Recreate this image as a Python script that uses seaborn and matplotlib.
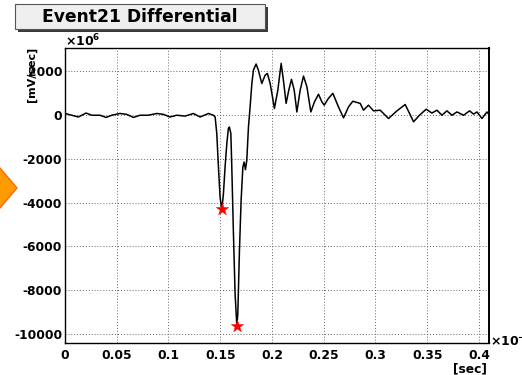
import numpy as np
import pandas as pd
import seaborn as sns
import matplotlib
matplotlib.use("Agg")
import matplotlib.pyplot as plt
from matplotlib.patches import Polygon, Rectangle
from matplotlib.ticker import MultipleLocator

# Differential waveform: time in units of 1e-6 s, value in units of 1e6 mV/s
time_us = [0.0000, 0.0065, 0.0129, 0.0203, 0.0258, 0.0338, 0.0397, 0.0452,
           0.0532, 0.0597, 0.0661, 0.0725, 0.0803, 0.0887, 0.0951, 0.1015,
           0.1080, 0.1161, 0.1241, 0.1306, 0.1386, 0.1434, 0.1451, 0.1467,
           0.1483, 0.1499, 0.1515, 0.1531, 0.1547, 0.1564, 0.1579, 0.1589,
           0.1603, 0.1612, 0.1628, 0.1644, 0.1661, 0.1670, 0.1686, 0.1702,
           0.1719, 0.1731, 0.1744, 0.1757, 0.1773, 0.1789, 0.1806, 0.1821,
           0.1847, 0.1869, 0.1902, 0.1934, 0.1956, 0.1983, 0.2024, 0.2057,
           0.2089, 0.2111, 0.2137, 0.2163, 0.2189, 0.2215, 0.2241, 0.2273,
           0.2305, 0.2338, 0.2376, 0.2411, 0.2450, 0.2483, 0.2505, 0.2546,
           0.2589, 0.2643, 0.2692, 0.2740, 0.2782, 0.2853, 0.2885, 0.2933,
           0.2982, 0.3046, 0.3127, 0.3208, 0.3288, 0.3369, 0.3426, 0.3491,
           0.3546, 0.3595, 0.3643, 0.3691, 0.3740, 0.3788, 0.3852, 0.3910,
           0.3949, 0.3982, 0.4030, 0.4078, 0.4095]
diff_val = [80, 0, -80, 100, 0, 0, -100, 0,
            80, 40, -100, 0, 0, 80, 40, -80,
            0, -40, 80, -80, 80, 0, -80, -840,
            -2370, -3750, -4330, -3600, -2370, -1300, -610, -540,
            -840, -2370, -5430, -8180, -9630, -9100, -6190, -3900,
            -2370, -2140, -2490, -2060, -540, 380, 1450, 2060,
            2340, 2060, 1450, 1830, 1910, 1450, 310, 1150,
            2370, 1600, 540, 1150, 1640, 1150, 150, 1150,
            1790, 1300, 150, 610, 960, 610, 460, 770,
            1000, 380, -120, 380, 640, 540, 230, 460,
            200, 230, -150, 200, 490, -300, 0, 275,
            100, 230, 0, 200, 0, 150, 0, 200,
            50, 150, -150, 150, 50]

# Marked minima
peak_t = [0.1515, 0.1661]
peak_v = [-4300, -9630]

x_ticks = [0, 0.05, 0.1, 0.15, 0.2, 0.25, 0.3, 0.35, 0.4]
x_tick_labels = ["0", "0.05", "0.1", "0.15", "0.2", "0.25", "0.3", "0.35", "0.4"]
y_ticks = [-10000, -8000, -6000, -4000, -2000, 0, 2000]
y_tick_labels = ["-10000", "-8000", "-6000", "-4000", "-2000", "0", "2000"]

sns.set_style("white")
plt.rcParams["font.family"] = ["DejaVu Sans"]
plt.rcParams["font.weight"] = "bold"
plt.rcParams["mathtext.fontset"] = "dejavusans"
for key in ("text.color", "axes.labelcolor", "xtick.color", "ytick.color",
            "xtick.labelcolor", "ytick.labelcolor"):
    plt.rcParams[key] = "black"

W, H = 522, 375
fig = plt.figure(figsize=(W / 100, H / 100), dpi=100)
fig.patch.set_facecolor("white")

def fx(px):
    return px / W

def fy(py):
    return 1 - py / H

ax = fig.add_axes([fx(65), fy(342.7), fx(488.7) - fx(65), fy(48.3) - fy(342.7)])
ax.set_facecolor("white")

df = pd.DataFrame({"t": time_us, "v": diff_val})
sns.lineplot(data=df, x="t", y="v", sort=False, color="black", linewidth=1.1,
             ax=ax, zorder=3)
pk = pd.DataFrame({"t": peak_t, "v": peak_v})
sns.scatterplot(data=pk, x="t", y="v", marker="*", color="red", s=90,
                edgecolor="red", linewidth=0.3, ax=ax, zorder=4)

ax.set_xlim(0, 0.4095)
ax.set_ylim(-10400, 3060)
ax.set_xlabel("")
ax.set_ylabel("")

ax.set_xticks(x_ticks)
ax.set_xticklabels(x_tick_labels, fontweight="bold", fontsize=8.8, color="black")
ax.set_yticks(y_ticks)
ax.set_yticklabels(y_tick_labels, fontweight="bold", fontsize=8.8, color="black")
ax.xaxis.set_minor_locator(MultipleLocator(0.01))
ax.yaxis.set_minor_locator(MultipleLocator(500))

ax.grid(True, which="major", color="#666666", linestyle=(0, (1, 2)), linewidth=0.7)
ax.tick_params(axis="both", which="both", direction="in", top=False, right=False,
               color="black", width=0.9)
ax.tick_params(axis="x", which="major", length=6.4, pad=4.5)
ax.tick_params(axis="x", which="minor", length=3.2)
ax.tick_params(axis="y", which="major", length=9.0, pad=2)
ax.tick_params(axis="y", which="minor", length=4.6)
for sp in ax.spines.values():
    sp.set_color("black")
    sp.set_linewidth(1.0)
    sp.set_visible(True)
ax.spines["right"].set_linewidth(1.4)

# Axis annotations
fig.text(fx(65), fy(46), r"$\times\mathbf{10^{6}}$", fontsize=9, ha="left", va="baseline")
fig.text(fx(490), fy(346), r"$\times\mathbf{10^{-6}}$", fontsize=9, ha="left", va="baseline")
fig.text(fx(487), fy(369), "[sec]", fontsize=8.8, fontweight="bold", ha="right", va="center")
fig.text(fx(32), fy(47), "[mV/sec]", fontsize=8.0, fontweight="bold", rotation=90,
         ha="center", va="top")

# Title box with drop shadow
fig.patches.append(Rectangle((fx(18), fy(32)), fx(250), fy(4) - fy(29),
                             transform=fig.transFigure, facecolor="#3a3a3a",
                             edgecolor="none", zorder=1))
fig.patches.append(Rectangle((fx(15), fy(29)), fx(250), fy(4) - fy(29),
                             transform=fig.transFigure, facecolor="#efefef",
                             edgecolor="#555555", linewidth=0.8, zorder=2))
fig.text(fx(140), fy(17), "Event21 Differential", fontsize=12.3, fontweight="bold",
         ha="center", va="center", zorder=3)

# Orange marker at the left edge
fig.patches.append(Polygon([(fx(-6), fy(161)), (fx(17), fy(188)), (fx(-6), fy(215))],
                           closed=True, transform=fig.transFigure,
                           facecolor="#ff9a00", edgecolor="#ff6a00", linewidth=1.0,
                           zorder=2))

fig.savefig("out.png", dpi=100)
